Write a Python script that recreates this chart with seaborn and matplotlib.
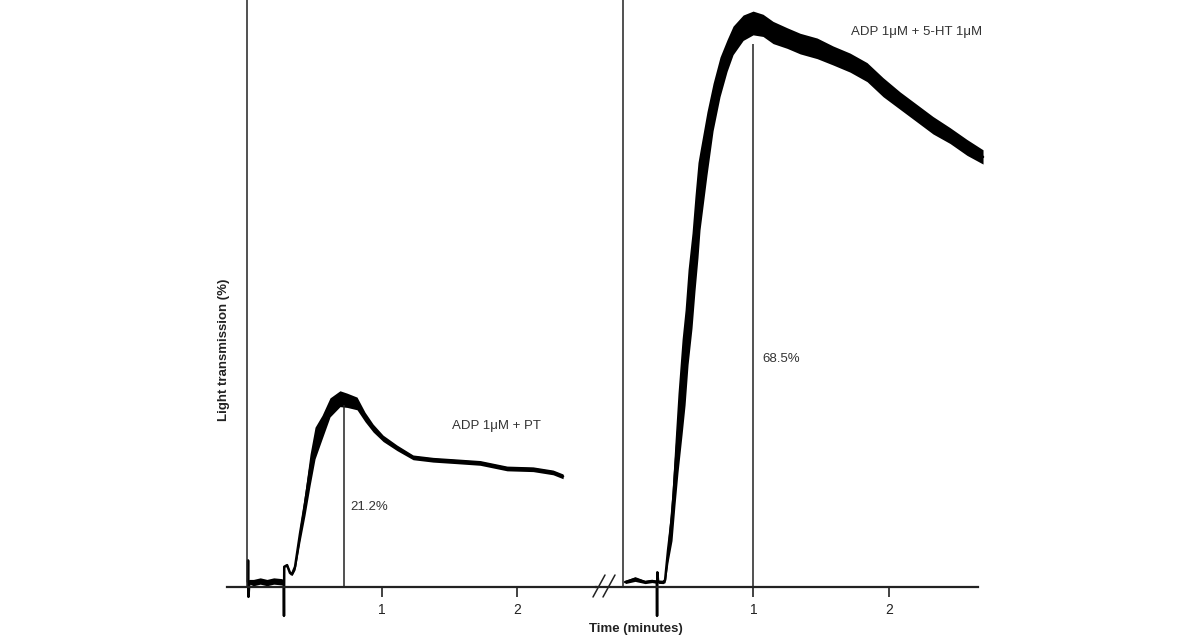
import numpy as np
import matplotlib
matplotlib.use("Agg")
import matplotlib.pyplot as plt
import seaborn as sns
from matplotlib.lines import Line2D

# left recording: ADP 1uM + PT  (time in minutes, light transmission in %)
left_time = [0.008, 0.010, 0.013, 0.02, 0.05, 0.10, 0.15, 0.20, 0.26, 0.274,
             0.276, 0.278, 0.299, 0.321, 0.336, 0.358, 0.395, 0.432, 0.469, 0.506,
             0.558, 0.617, 0.691, 0.743, 0.817, 0.876, 0.936, 1.010, 1.113, 1.232,
             1.380, 1.557, 1.728, 1.928, 2.121, 2.269, 2.343]
left_trans = [0.6, 3.3, -1.3, 0.6, 0.5, 0.7, 0.5, 0.7, 0.6, 0.6,
              -3.7, 2.5, 2.7, 1.7, 1.6, 2.5, 6.7, 10.5, 14.7, 18.1,
              20.1, 22.6, 23.7, 23.5, 23.1, 21.4, 20.0, 18.7, 17.5, 16.3,
              16.0, 15.8, 15.6, 14.9, 14.8, 14.4, 13.9]
# half width of the noisy trace band
left_noise = [0.3, 0, 0, 0.3, 0.4, 0.4, 0.4, 0.4, 0.4, 0.2,
              0, 0, 0.2, 0.2, 0.2, 0.4, 1.0, 1.5, 2.0, 2.0,
              1.5, 1.2, 1.0, 0.9, 0.8, 0.6, 0.5, 0.4, 0.35, 0.3,
              0.3, 0.3, 0.3, 0.3, 0.3, 0.3, 0.3]

# right recording: ADP 1uM + 5-HT 1uM
right_time = [0.057, 0.130, 0.204, 0.255, 0.290, 0.292, 0.294, 0.300, 0.336, 0.351,
              0.373, 0.402, 0.424, 0.446, 0.476, 0.498, 0.520, 0.549, 0.571, 0.593,
              0.608, 0.659, 0.704, 0.755, 0.807, 0.851, 0.925, 0.998, 1.071, 1.145,
              1.248, 1.344, 1.469, 1.586, 1.711, 1.836, 1.954, 2.079, 2.204, 2.321,
              2.446, 2.571, 2.689]
right_trans = [0.57, 0.95, 0.57, 0.7, 0.6, -3.7, 1.8, 0.6, 0.57, 0.8,
               4.6, 8.8, 14.3, 19.4, 25.2, 28.9, 34.0, 38.6, 43.3, 47.5,
               50.0, 55.9, 60.5, 64.3, 67.0, 68.9, 70.5, 71.1, 70.8, 69.9,
               69.2, 68.5, 67.9, 67.0, 66.1, 64.9, 63.0, 61.3, 59.7, 58.2,
               56.9, 55.4, 54.2]
right_noise = [0.2, 0.3, 0.2, 0.2, 0.2, 0, 0, 0.2, 0.2, 0.3,
               1.5, 3.0, 4.0, 5.0, 6.0, 6.0, 6.0, 6.0, 6.0, 6.0,
               5.0, 4.0, 3.0, 2.5, 2.0, 1.8, 1.6, 1.5, 1.4, 1.4,
               1.3, 1.3, 1.3, 1.2, 1.2, 1.2, 1.2, 1.1, 1.1, 1.1,
               1.0, 1.0, 0.9]

ticks = [1, 2]
tick_labels = ["1", "2"]

# marker lines: start line, peak time, peak height, labels
left_marks = dict(start=0.0, peak_t=0.721, peak_y=22.9, label="21.2%",
                  title="ADP 1μM + PT")
right_marks = dict(start=0.04, peak_t=1.0, peak_y=68.5, label="68.5%",
                   title="ADP 1μM + 5-HT 1μM")

sns.set_style("white")
plt.rcParams["font.family"] = ["Liberation Sans", "DejaVu Sans"]

W, H = 1200, 641
fig = plt.figure(figsize=(12, 6.41), dpi=100)

y_top, y_bottom = 74.0, -4.85


def draw_panel(ax, t, y, hw, marks, xlim):
    t = np.asarray(t)
    y = np.asarray(y)
    hw = np.asarray(hw)
    ax.fill_between(t, y - hw, y + hw, color="black", lw=0, clip_on=False)
    sns.lineplot(x=t, y=y, ax=ax, color="black", lw=1.8, sort=False,
                 estimator=None, clip_on=False)
    ax.vlines(marks["start"], 0, y_top, color="#222222", lw=1.1, clip_on=False)
    ax.vlines(marks["peak_t"], 0, marks["peak_y"], color="#222222", lw=1.1)
    ax.set_xlim(*xlim)
    ax.set_ylim(y_bottom, y_top)
    for s in ["top", "right", "left"]:
        ax.spines[s].set_visible(False)
    ax.spines["bottom"].set_position(("data", 0))
    ax.spines["bottom"].set_linewidth(1.6)
    ax.spines["bottom"].set_color("#222222")
    ax.set_yticks([])
    ax.set_xticks(ticks, tick_labels)
    ax.tick_params(axis="x", direction="out", length=7, width=1.2,
                   color="#222222", labelsize=10, pad=5, labelcolor="#222222",
                   bottom=True)
    ax.set_xlabel("")
    ax.set_ylabel("")
    ax.patch.set_alpha(0)


ax_l = fig.add_axes([227 / W, 16 / H, 369 / W, 625 / H])
ax_r = fig.add_axes([596 / W, 16 / H, 382 / W, 625 / H])

draw_panel(ax_l, left_time, left_trans, left_noise, left_marks, (-0.146, 2.587))
draw_panel(ax_r, right_time, right_trans, right_noise, right_marks, (-0.157, 2.652))

# annotations
ax_l.text(left_marks["peak_t"] + 0.05, 10.0, left_marks["label"], fontsize=9.5,
          color="#333333", va="center", ha="left")
ax_l.text(1.52, 20.2, left_marks["title"], fontsize=9.5, color="#333333",
          va="center", ha="left")
ax_r.text(right_marks["peak_t"] + 0.07, 28.7, right_marks["label"], fontsize=9.5,
          color="#333333", va="center", ha="left")
ax_r.text(1.72, 69.9, right_marks["title"], fontsize=9.5, color="#333333",
          va="center", ha="left")

# axis titles
fig.text(636 / W, 1 - 629 / H, "Time (minutes)", fontsize=9.5, fontweight="bold",
         ha="center", va="center", color="#222222")
fig.text(224 / W, 1 - 350 / H, "Light transmission (%)", fontsize=9.5,
         fontweight="bold", rotation=90, ha="center", va="center", color="#222222")

# axis break marks
for x0 in (593, 603):
    fig.add_artist(Line2D([x0 / W, (x0 + 12) / W], [1 - 597 / H, 1 - 575 / H],
                          transform=fig.transFigure, color="#222222", lw=1.1))

fig.savefig("out.png", dpi=100, facecolor="white")
